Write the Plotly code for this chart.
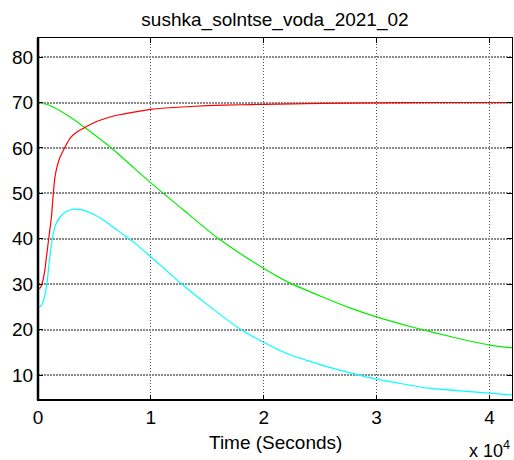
import plotly.graph_objects as go

# Scope traces, time in seconds
t_red = [0, 200, 400, 600, 800, 1000, 1200, 1330, 1500, 1700, 1960, 2400, 2800, 3500, 4000,
         5000, 6400, 7000, 8500, 10000, 12000, 15000, 18000, 20000, 25000, 30000, 35000, 40000, 42000]
red = [29, 29.2, 30.5, 33, 37, 41, 45, 49.2, 53.5, 56, 58, 60.2, 62.0, 63.6, 64.3,
       65.6, 66.8, 67.2, 67.9, 68.5, 68.9, 69.3, 69.5, 69.6, 69.8, 69.9, 70, 70, 70]

t_green = [0, 1000, 2600, 4200, 6400, 10000, 13000, 15900, 19200, 22100, 25000, 27500,
           30000, 33400, 37000, 40000, 42000]
green = [70, 69.4, 67.2, 64.4, 60.2, 52.3, 46.1, 40.2, 34.7, 30.5, 27.4, 24.9,
         22.8, 20.4, 18.2, 16.6, 16.0]

t_cyan = [0, 200, 400, 600, 800, 1000, 1300, 1600, 2000, 2500, 3100, 4000, 5000, 6000,
          7000, 8500, 10000, 11300, 12600, 15000, 17800, 19700, 22000, 25000, 28100,
          30000, 34600, 40000, 42000]
cyan = [25, 25.1, 25.8, 27.5, 30.3, 35, 40.5, 43.3, 44.9, 46, 46.5, 46.3, 45.3, 43.8,
        41.9, 39.2, 36, 33.2, 30.3, 25.5, 20.3, 17.6, 14.8, 12.3, 10.2,
        9.1, 7.1, 6.0, 5.6]

x_tickvals = [0, 10000, 20000, 30000, 40000]
x_ticktext = ["0", "1", "2", "3", "4"]
y_tickvals = [10, 20, 30, 40, 50, 60, 70, 80]

FONT = "Liberation Sans, Arial, sans-serif"

fig = go.Figure()
for tx, vy, col in [(t_cyan, cyan, "#00ffff"), (t_green, green, "#00ee00"), (t_red, red, "#ff0000")]:
    fig.add_trace(go.Scatter(x=tx, y=vy, mode="lines",
                             line=dict(color=col, width=1.2, shape="spline", smoothing=0.5)))

fig.update_layout(
    width=514, height=460,
    margin=dict(l=38, r=2, t=38, b=60),
    paper_bgcolor="white", plot_bgcolor="white",
    showlegend=False,
    font=dict(family=FONT, size=19, color="black"),
    title=dict(text="sushka_solntse_voda_2021_02", x=0.5, xref="paper",
               y=1 - 19 / 460, yref="container", yanchor="middle",
               font=dict(family=FONT, size=19, color="black")),
)

fig.update_xaxes(
    range=[0, 42000], tickvals=x_tickvals, ticktext=x_ticktext,
    ticks="inside", ticklen=5, tickcolor="black", tickwidth=1,
    showline=True, linecolor="black", linewidth=1, mirror="ticks",
    showgrid=True, gridcolor="#505050", griddash="1px,2px", gridwidth=1,
    zeroline=False, tickfont=dict(size=19),
)
fig.update_yaxes(
    range=[4.5, 84.2], tickvals=y_tickvals,
    ticks="inside", ticklen=5, tickcolor="black", tickwidth=1,
    showline=True, linecolor="black", linewidth=1, mirror="ticks",
    showgrid=True, gridcolor="#8a8a8a", griddash="2px,1px", gridwidth=1.5,
    zeroline=False, tickfont=dict(size=19),
)

# heavier left and bottom frame edges
fig.add_shape(type="line", xref="paper", yref="paper", x0=0, x1=0, y0=0, y1=1,
              line=dict(color="black", width=2.5), layer="above")
fig.add_shape(type="line", xref="paper", yref="paper", x0=0, x1=1, y0=0, y1=0,
              line=dict(color="black", width=2), layer="above")

fig.add_annotation(text="Time (Seconds)", xref="paper", yref="paper", x=0.5, y=0,
                   yshift=-42, yanchor="middle", showarrow=False,
                   font=dict(family=FONT, size=19, color="black"))
fig.add_annotation(text="x 10<sup>4</sup>", xref="paper", yref="paper", x=1, y=0,
                   xanchor="right", yanchor="middle", yshift=-49, showarrow=False,
                   font=dict(family=FONT, size=18, color="black"))

fig.write_html("out.html")
